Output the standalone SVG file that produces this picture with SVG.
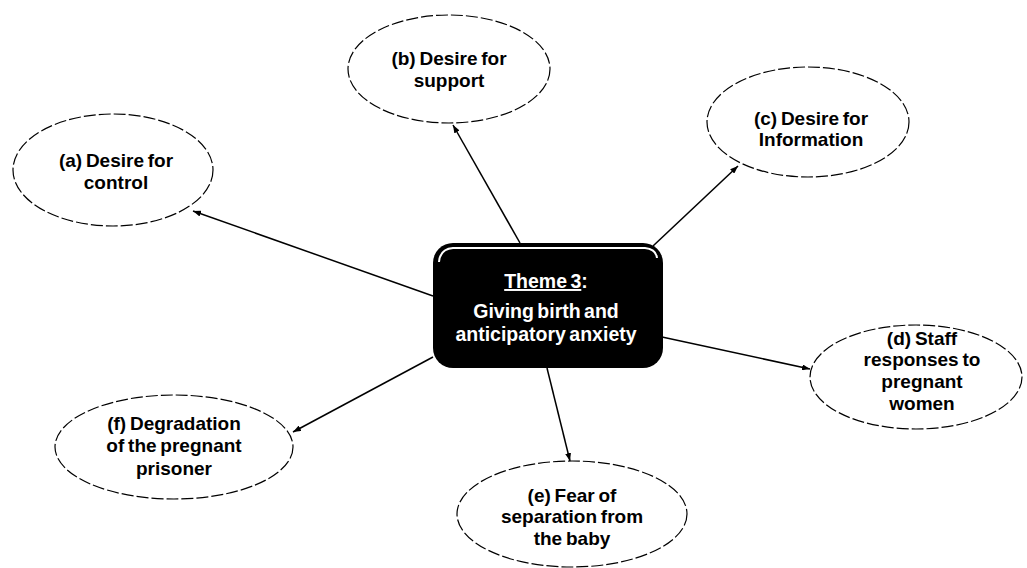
<svg xmlns="http://www.w3.org/2000/svg" width="1027" height="568" viewBox="0 0 1027 568">
  <style>
    .bubble { fill: #ffffff; stroke: #000000; stroke-width: 1.2; stroke-dasharray: 12 3; }
    .label { font-family: "Liberation Sans", Arial, sans-serif; font-weight: bold; font-size: 19px; fill: #000000; text-anchor: middle; word-spacing: -1.5px; }
    .theme { font-family: "Liberation Sans", Arial, sans-serif; font-weight: bold; font-size: 19.5px; fill: #ffffff; text-anchor: middle; word-spacing: -2px; }
    .link { stroke: #000000; stroke-width: 1.5; fill: none; marker-end: url(#tip); }
  </style>
  <defs>
    <marker id="tip" viewBox="0 0 8 6" refX="8" refY="3" markerWidth="8" markerHeight="6" markerUnits="userSpaceOnUse" orient="auto">
      <path d="M0,0 L8,3 L0,6 z" fill="#000000"/>
    </marker>
  </defs>
  <rect width="1027" height="568" fill="#ffffff"/>

  <!-- connectors from the central theme to each sub-theme -->
  <g id="connectors">
    <line class="link" x1="433" y1="296" x2="193" y2="211"/>
    <line class="link" x1="520" y1="243" x2="453" y2="125"/>
    <line class="link" x1="653" y1="246" x2="738" y2="166"/>
    <line class="link" x1="662" y1="337" x2="810" y2="369"/>
    <line class="link" x1="547" y1="368" x2="570" y2="461"/>
    <line class="link" x1="433" y1="357" x2="293" y2="432"/>
  </g>

  <g id="theme">
    <rect x="433" y="243" width="230" height="125" rx="20" ry="20" fill="#000000"/>
    <path d="M439,262 Q440,249 453,248 L645,248 Q656,249 657,258" fill="none" stroke="#ffffff" stroke-width="2"/>
    <text class="theme" x="546" y="288"><tspan text-decoration="underline">Theme 3</tspan>:</text>
    <text class="theme" x="546" y="318">Giving birth and</text>
    <text class="theme" x="546" y="341">anticipatory anxiety</text>
  </g>

  <g id="node-a">
    <ellipse class="bubble" cx="113" cy="170" rx="100" ry="56"/>
    <text class="label" x="116" y="167">(a) Desire for</text>
    <text class="label" x="116" y="189">control</text>
  </g>

  <g id="node-b">
    <ellipse class="bubble" cx="449" cy="69" rx="101" ry="54"/>
    <text class="label" x="449" y="65">(b) Desire for</text>
    <text class="label" x="449" y="87">support</text>
  </g>

  <g id="node-c">
    <ellipse class="bubble" cx="808" cy="122" rx="101" ry="55"/>
    <text class="label" x="811" y="125">(c) Desire for</text>
    <text class="label" x="811" y="146">Information</text>
  </g>

  <g id="node-d">
    <ellipse class="bubble" cx="916" cy="377" rx="106" ry="52"/>
    <text class="label" x="922" y="345">(d) Staff</text>
    <text class="label" x="922" y="366">responses to</text>
    <text class="label" x="922" y="388">pregnant</text>
    <text class="label" x="922" y="410">women</text>
  </g>

  <g id="node-e">
    <ellipse class="bubble" cx="572" cy="514" rx="115" ry="53"/>
    <text class="label" x="572" y="502">(e) Fear of</text>
    <text class="label" x="572" y="523">separation from</text>
    <text class="label" x="572" y="545">the baby</text>
  </g>

  <g id="node-f">
    <ellipse class="bubble" cx="174" cy="447" rx="119" ry="52"/>
    <text class="label" x="174" y="430">(f) Degradation</text>
    <text class="label" x="174" y="452">of the pregnant</text>
    <text class="label" x="174" y="475">prisoner</text>
  </g>
</svg>
